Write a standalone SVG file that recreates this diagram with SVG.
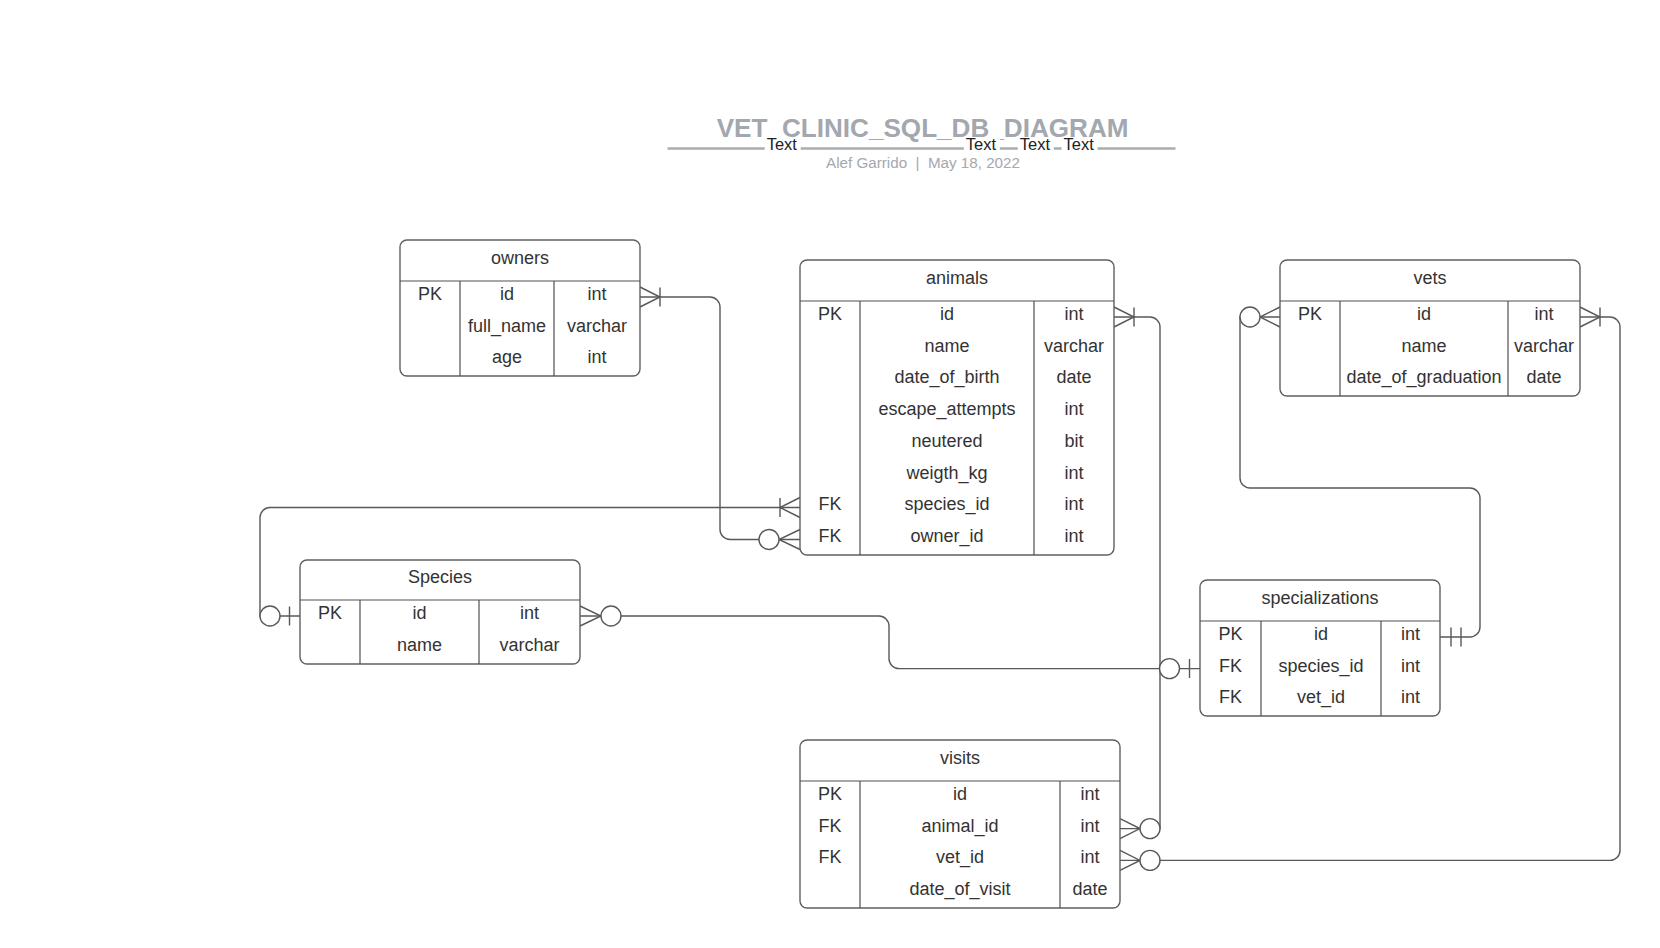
<svg xmlns="http://www.w3.org/2000/svg" width="1660" height="948" viewBox="0 0 1660 948">
<style>
.bg{fill:#ffffff}
.box{fill:#ffffff;stroke:#606060;stroke-width:1.4}
.ln{stroke:#505050;stroke-width:1.2;fill:none}
.t{font-family:"Liberation Sans",Arial,sans-serif;font-size:18px;fill:#333333;text-anchor:middle}
.conn{fill:none;stroke:#585858;stroke-width:1.4}
.circ{fill:#ffffff;stroke:#585858;stroke-width:1.4}
.title{font-family:"Liberation Sans",Arial,sans-serif;font-size:26.1px;font-weight:bold;fill:#a3a7ae;text-anchor:middle}
.sub{font-family:"Liberation Sans",Arial,sans-serif;font-size:15.2px;fill:#a5a8ae;text-anchor:middle}
.lbl{font-family:"Liberation Sans",Arial,sans-serif;font-size:16.5px;fill:#222222}
</style>
<rect class="bg" x="0" y="0" width="1660" height="948"/>

<g id="title">
<text class="title" x="922.6" y="137">VET_CLINIC_SQL_DB_DIAGRAM</text>
<line x1="667.6" y1="148.6" x2="1175.5" y2="148.6" stroke="#a9acb0" stroke-width="2.5"/>
<rect class="bg" x="764.7" y="139" width="36" height="14"/>
<rect class="bg" x="963.8" y="139" width="36" height="14"/>
<rect class="bg" x="1017.8" y="139" width="36" height="14"/>
<rect class="bg" x="1061.6" y="139" width="36" height="14"/>
<text class="lbl" x="766.7" y="150.4">Text</text>
<text class="lbl" x="965.8" y="150.4">Text</text>
<text class="lbl" x="1019.8" y="150.4">Text</text>
<text class="lbl" x="1063.6" y="150.4">Text</text>
<text class="sub" x="923" y="167.6" xml:space="preserve">Alef Garrido  |  May 18, 2022</text>
</g>

<g id="connectors">
<!-- owners.id -> animals.owner_id -->
<path class="conn" d="M 640 297 H 710 A 10 10 0 0 1 720 307 V 529.5 A 10 10 0 0 0 730 539.5 H 800"/>
<path class="conn" d="M 640 287 L 660 297 L 640 307 M 660 287.5 V 306.5"/>
<path class="conn" d="M 800 529.5 L 779 539.5 L 800 549.5"/>
<circle class="circ" cx="769" cy="539.5" r="10"/>
<!-- animals.species_id -> Species.id -->
<path class="conn" d="M 800 507.5 H 270 A 10 10 0 0 0 260 517.5 V 616 H 300"/>
<path class="conn" d="M 800 497.5 L 780 507.5 L 800 517.5 M 780 498 V 517"/>
<circle class="circ" cx="270" cy="616" r="10"/>
<path class="conn" d="M 289.5 606.5 V 625.5"/>
<!-- Species.id -> specializations.species_id -->
<path class="conn" d="M 580 616 H 879 A 10 10 0 0 1 889 626 V 658.6 A 10 10 0 0 0 899 668.6 H 1200"/>
<path class="conn" d="M 580 606 L 601 616 L 580 626"/>
<circle class="circ" cx="611" cy="616" r="10"/>
<path class="conn" d="M 1189.5 659 V 678"/>
<!-- animals.id -> visits.animal_id -->
<path class="conn" d="M 1114 317 H 1150 A 10 10 0 0 1 1160 327 V 828.6 H 1120"/>
<path class="conn" d="M 1114 307 L 1134 317 L 1114 327 M 1134 307.5 V 326.5"/>
<circle class="circ" cx="1169.5" cy="668.6" r="10"/>
<path class="conn" d="M 1120 818.6 L 1140 828.6 L 1120 838.6"/>
<circle class="circ" cx="1150" cy="828.6" r="10"/>
<!-- vets.id -> visits.vet_id -->
<path class="conn" d="M 1580 317 H 1610 A 10 10 0 0 1 1620 327 V 850.4 A 10 10 0 0 1 1610 860.4 H 1120"/>
<path class="conn" d="M 1580 307 L 1600 317 L 1580 327 M 1600 307.5 V 326.5"/>
<path class="conn" d="M 1120 850.4 L 1140 860.4 L 1120 870.4"/>
<circle class="circ" cx="1150" cy="860.4" r="10"/>
<!-- specializations -> vets.id -->
<path class="conn" d="M 1440 637 H 1470 A 10 10 0 0 0 1480 627 V 498 A 10 10 0 0 0 1470 488 H 1250 A 10 10 0 0 1 1240 478 V 317 H 1280"/>
<path class="conn" d="M 1451 627.5 V 646.5 M 1461 627.5 V 646.5"/>
<path class="conn" d="M 1280 307 L 1260 317 L 1280 327"/>
<circle class="circ" cx="1250" cy="317" r="10"/>
</g>

<g id="owners">
<rect class="box" x="400" y="240" width="240" height="136" rx="7"/>
<path class="ln" d="M 400 281 H 640 M 460 281 V 376 M 554 281 V 376"/>
<text class="t" x="520" y="263.5">owners</text>
<text class="t" x="430" y="300">PK</text>
<text class="t" x="507" y="300">id</text>
<text class="t" x="597" y="300">int</text>
<text class="t" x="507" y="331.6">full_name</text>
<text class="t" x="597" y="331.6">varchar</text>
<text class="t" x="507" y="363.4">age</text>
<text class="t" x="597" y="363.4">int</text>
</g>

<g id="animals">
<rect class="box" x="800" y="260" width="314" height="295" rx="7"/>
<path class="ln" d="M 800 301 H 1114 M 860 301 V 555 M 1034 301 V 555"/>
<text class="t" x="957" y="283.5">animals</text>
<text class="t" x="830" y="319.9">PK</text>
<text class="t" x="947" y="319.9">id</text>
<text class="t" x="1074" y="319.9">int</text>
<text class="t" x="947" y="351.6">name</text>
<text class="t" x="1074" y="351.6">varchar</text>
<text class="t" x="947" y="383.4">date_of_birth</text>
<text class="t" x="1074" y="383.4">date</text>
<text class="t" x="947" y="415.1">escape_attempts</text>
<text class="t" x="1074" y="415.1">int</text>
<text class="t" x="947" y="446.9">neutered</text>
<text class="t" x="1074" y="446.9">bit</text>
<text class="t" x="947" y="478.6">weigth_kg</text>
<text class="t" x="1074" y="478.6">int</text>
<text class="t" x="830" y="510.4">FK</text>
<text class="t" x="947" y="510.4">species_id</text>
<text class="t" x="1074" y="510.4">int</text>
<text class="t" x="830" y="542.1">FK</text>
<text class="t" x="947" y="542.1">owner_id</text>
<text class="t" x="1074" y="542.1">int</text>
</g>

<g id="vets">
<rect class="box" x="1280" y="260" width="300" height="136" rx="7"/>
<path class="ln" d="M 1280 301 H 1580 M 1340 301 V 396 M 1508 301 V 396"/>
<text class="t" x="1430" y="283.5">vets</text>
<text class="t" x="1310" y="319.9">PK</text>
<text class="t" x="1424" y="319.9">id</text>
<text class="t" x="1544" y="319.9">int</text>
<text class="t" x="1424" y="351.6">name</text>
<text class="t" x="1544" y="351.6">varchar</text>
<text class="t" x="1424" y="383.4">date_of_graduation</text>
<text class="t" x="1544" y="383.4">date</text>
</g>

<g id="species">
<rect class="box" x="300" y="560" width="280" height="104" rx="7"/>
<path class="ln" d="M 300 600 H 580 M 360 600 V 664 M 479 600 V 664"/>
<text class="t" x="440" y="583">Species</text>
<text class="t" x="330" y="618.9">PK</text>
<text class="t" x="419.5" y="618.9">id</text>
<text class="t" x="529.5" y="618.9">int</text>
<text class="t" x="419.5" y="650.6">name</text>
<text class="t" x="529.5" y="650.6">varchar</text>
</g>

<g id="specializations">
<rect class="box" x="1200" y="580" width="240" height="136" rx="7"/>
<path class="ln" d="M 1200 621 H 1440 M 1261 621 V 716 M 1381 621 V 716"/>
<text class="t" x="1320" y="603.5">specializations</text>
<text class="t" x="1230.5" y="639.9">PK</text>
<text class="t" x="1321" y="639.9">id</text>
<text class="t" x="1410.5" y="639.9">int</text>
<text class="t" x="1230.5" y="671.6">FK</text>
<text class="t" x="1321" y="671.6">species_id</text>
<text class="t" x="1410.5" y="671.6">int</text>
<text class="t" x="1230.5" y="703.4">FK</text>
<text class="t" x="1321" y="703.4">vet_id</text>
<text class="t" x="1410.5" y="703.4">int</text>
</g>

<g id="visits">
<rect class="box" x="800" y="740" width="320" height="168" rx="7"/>
<path class="ln" d="M 800 781 H 1120 M 860 781 V 908 M 1060 781 V 908"/>
<text class="t" x="960" y="763.5">visits</text>
<text class="t" x="830" y="799.9">PK</text>
<text class="t" x="960" y="799.9">id</text>
<text class="t" x="1090" y="799.9">int</text>
<text class="t" x="830" y="831.6">FK</text>
<text class="t" x="960" y="831.6">animal_id</text>
<text class="t" x="1090" y="831.6">int</text>
<text class="t" x="830" y="863.4">FK</text>
<text class="t" x="960" y="863.4">vet_id</text>
<text class="t" x="1090" y="863.4">int</text>
<text class="t" x="960" y="895.1">date_of_visit</text>
<text class="t" x="1090" y="895.1">date</text>
</g>
</svg>
